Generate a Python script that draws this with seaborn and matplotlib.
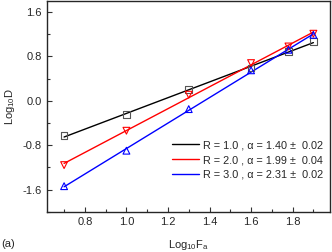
import matplotlib
matplotlib.use("Agg")
import matplotlib.pyplot as plt
from matplotlib.ticker import MultipleLocator
import numpy as np
import seaborn as sns

log_fa = [0.70, 1.00, 1.30, 1.60, 1.78, 1.90]
log_d_r1 = [-0.63, -0.25, 0.20, 0.59, 0.89, 1.07]
log_d_r2 = [-1.16, -0.54, 0.11, 0.68, 0.98, 1.21]
log_d_r3 = [-1.54, -0.90, -0.15, 0.55, 0.92, 1.19]
labels = ["R = 1.0 , \u03b1 = 1.40 \u00b1  0.02",
          "R = 2.0 , \u03b1 = 1.99 \u00b1  0.04",
          "R = 3.0 , \u03b1 = 2.31 \u00b1  0.02"]

sns.set_style("ticks")
plt.rcParams["font.family"] = ["Liberation Sans", "DejaVu Sans"]
plt.rcParams["mathtext.fontset"] = "custom"
plt.rcParams["mathtext.rm"] = "Liberation Sans"
plt.rcParams["mathtext.it"] = "Liberation Sans"
plt.rcParams["mathtext.default"] = "regular"

fig = plt.figure(figsize=(3.32, 2.52), dpi=100)
ax = fig.add_axes([0.143, 0.160, 0.851, 0.836])

series = [(log_d_r1, "black", "s", "#555555"),
          (log_d_r2, "red", "v", "red"),
          (log_d_r3, "blue", "^", "blue")]
for (ys, color, marker, mcolor), label in zip(series, labels):
    x = np.array(log_fa)
    slope, icpt = np.polyfit(x, ys, 1)
    xl = np.array([x.min(), x.max()])
    ax.plot(xl, slope * xl + icpt, color=color, lw=1.0, label=label, zorder=2)
    sns.scatterplot(x=log_fa, y=ys, ax=ax, marker=marker, s=24, facecolor="none",
                    edgecolor=mcolor, linewidth=0.8, zorder=3, legend=False)

ax.set_xlim(0.62, 1.98)
ax.set_ylim(-2.0, 1.8)
ax.xaxis.set_major_locator(MultipleLocator(0.2))
ax.xaxis.set_minor_locator(MultipleLocator(0.1))
ax.yaxis.set_major_locator(MultipleLocator(0.8))
ax.yaxis.set_minor_locator(MultipleLocator(0.4))
ax.xaxis.set_major_formatter(matplotlib.ticker.FormatStrFormatter("%.1f"))
ax.yaxis.set_major_formatter(matplotlib.ticker.FormatStrFormatter("%.1f"))
ax.tick_params(which="both", direction="in", labelsize=8, width=0.8, color="#333333", pad=4)
ax.tick_params(which="major", length=3.5)
ax.tick_params(which="minor", length=2)
for sp in ax.spines.values():
    sp.set_linewidth(1.0)

ax.set_xlabel("Log$_{10}$F$_a$", fontsize=8, labelpad=8)
ax.set_ylabel("Log$_{10}$D", fontsize=8, labelpad=4)
fig.text(0.003, 0.01, "(a)", fontsize=8, ha="left", va="bottom")

ax.legend(loc="center right", bbox_to_anchor=(0.975, 0.245), frameon=False, fontsize=7.8,
          handlelength=2.5, handletextpad=0.35, labelspacing=0.45, borderpad=0, borderaxespad=0)

fig.savefig("out.png", dpi=100)
